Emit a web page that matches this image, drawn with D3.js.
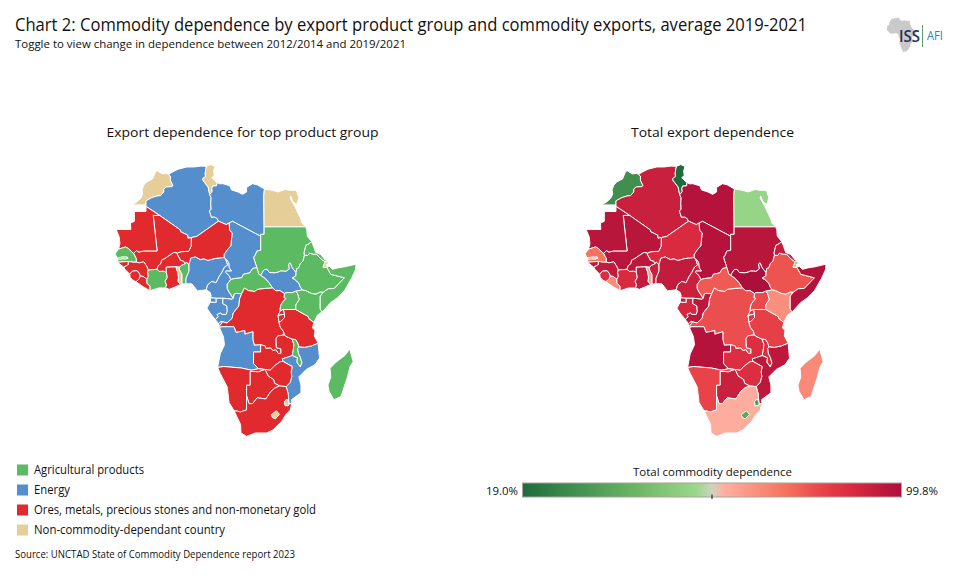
<!DOCTYPE html>
<html><head><meta charset="utf-8">
<script src="https://cdn.jsdelivr.net/npm/d3@7"></script>
<style>html,body{margin:0;padding:0;background:#fff}svg{display:block}text{font-family:"Open Sans",sans-serif;fill:#111}</style>
</head><body><svg id="c" width="955" height="584"></svg>
<script>
// ---------- chart data ----------
const titleText = "Chart 2: Commodity dependence by export product group and commodity exports, average 2019-2021";
const subtitleText = "Toggle to view change in dependence between 2012/2014 and 2019/2021";
const sourceText = "Source: UNCTAD State of Commodity Dependence report 2023";
const groupNames = ["Agricultural products","Energy","Ores, metals, precious stones and non-monetary gold","Non-commodity-dependant country"];
const groupColors = ["#5cba62","#558ecd","#e02a2d","#e6ce98"];
const agricultural = ["SEN","GMB","CIV","BEN","SDN","CAF","ETH","ERI","SOM","KEN","UGA","MWI","MDG"];
const energy = ["DZA","LBY","TCD","NGA","CMR","GNQ","GAB","COG","AGO","SSD","MOZ"];
const ores = ["MRT","MLI","NER","BFA","GIN","GNB","SLE","LBR","GHA","COD","RWA","BDI","TZA","ZMB","ZWE","BWA","NAM","ZAF"];
const nonCommodity = ["MAR","TUN","EGY","TGO","DJI","LSO","SWZ"];
const dependenceCodes = ["MAR","DZA","TUN","LBY","EGY","SDN","SSD","TCD","NER","MLI","MRT","SEN","GMB","GNB","GIN","SLE","LBR","CIV","BFA","GHA","TGO","BEN","NGA","CMR","CAF","GNQ","GAB","COG","COD","AGO","ZMB","MWI","MOZ","ZWE","BWA","NAM","ZAF","LSO","SWZ","TZA","KEN","UGA","RWA","BDI","ETH","ERI","DJI","SOM","MDG"];
const dependenceValues = [30,93,19,98,54.6,97,99.8,98,89,97,97,75,72,96,95,88,70,89,96,95,65,93,95,93,79,95,90,96,81,98,88,88,96,88,93,83,62.6,39,35,84,69,82,86,86,80,94,54,98,70];
const scaleT = [0,0.125,0.3,0.46,0.5,0.53,0.7,0.785,0.87,1];
const scaleColors = ["#1e6b3d","#3e8c4e","#6db565","#9cd88c","#cdd3bf","#ffb0a2","#f5705c","#e9454a","#d9293f","#ad0f3b"];
const scaleMin = 19.0, scaleMax = 99.8;
// borders: [country, neighbour or null for coast/no neighbour, lon-lat points]
const borders = [
["MAR",null,[[-2.2,35.1],[-2.9,35.3],[-4,35.2],[-5.4,35.9],[-5.9,35.8],[-6.8,34],[-8.5,33.3],[-9.3,32.5],[-9.8,31.4],[-9.6,30.4],[-10.2,29.3],[-11.5,28.3],[-12.9,27.67]]],
["MAR",null,[[-12.9,27.67],[-8.67,27.67]]],
["MAR","DZA",[[-8.67,27.67],[-8.67,28.7],[-7,29.5],[-5.5,29.9],[-4.5,30],[-3.6,30.9],[-3.6,31.6],[-2.9,32.1],[-1.2,32.2],[-1,32.5],[-1.7,33.7],[-1.7,34.7],[-2.2,35.1]]],
["DZA",null,[[-2.2,35.1],[-1,35.7],[0.5,36.3],[3,36.8],[5,36.8],[7,37],[8.6,36.95]]],
["DZA","TUN",[[8.6,36.95],[8.4,36.4],[8.2,35.3],[8.3,34.6],[7.5,34.1],[7.5,33.8],[8.1,33.1],[9.05,32.1],[9.5,30.2]]],
["TUN","LBY",[[9.5,30.2],[10.2,31],[10.1,31.7],[10.3,32.3],[11.5,32.4],[11.5,33.15]]],
["TUN",null,[[11.5,33.15],[10.8,33.7],[10.1,34.3],[10.8,34.9],[10.6,35.8],[11,36.9],[10.2,37.2],[9.8,37.35],[8.6,36.95]]],
["DZA","LBY",[[9.5,30.2],[9.9,29.5],[9.8,28],[9.9,26.5],[9.4,26.2],[10,24.5],[10.8,24.6],[11.6,24.2],[12,23.5]]],
["DZA","NER",[[12,23.5],[5.8,19.45],[4.25,19.15]]],
["DZA","MLI",[[4.25,19.15],[3.3,18.95],[3.2,19.8],[1.2,20.7],[1.1,21.2],[-4.8,25]]],
["DZA","MRT",[[-4.8,25],[-8.67,27.3]]],
["DZA",null,[[-8.67,27.3],[-8.67,27.67]]],
["MRT",null,[[-17.05,21],[-16.9,21.3],[-13,21.3],[-13.1,23],[-12,23.45],[-12,26],[-8.67,26],[-8.67,27.3]]],
["MRT",null,[[-16.5,16],[-16.1,17.5],[-16.3,19.3],[-17.05,21]]],
["MRT","MLI",[[-4.8,25],[-6.6,25],[-5.5,15.5],[-9.3,15.5],[-10.7,15.2],[-11.4,15.6],[-12.2,14.8]]],
["MRT","SEN",[[-12.2,14.8],[-12.8,15.3],[-13.7,16.2],[-14.5,16.6],[-16.5,16]]],
["SEN",null,[[-16.5,16],[-17.5,14.7],[-16.8,13.55]]],
["SEN","GMB",[[-16.8,13.55],[-15.5,13.8],[-14,13.8],[-13.8,13.5]]],
["SEN","GMB",[[-13.8,13.5],[-14.5,13.3],[-15.5,13.35],[-16.8,13.15]]],
["GMB",null,[[-16.8,13.15],[-16.8,13.55]]],
["SEN",null,[[-16.8,13.15],[-16.7,12.4]]],
["SEN","GNB",[[-16.7,12.4],[-13.7,12.6]]],
["SEN","GIN",[[-13.7,12.6],[-12.3,12.4],[-11.4,12.4]]],
["SEN","MLI",[[-12.2,14.8],[-11.5,13.5],[-11.4,12.4]]],
["GNB",null,[[-16.7,12.4],[-16.2,11.9],[-15,11]]],
["GNB","GIN",[[-15,11],[-13.7,11.7],[-13.7,12.6]]],
["GIN",null,[[-15,11],[-14.7,10.4],[-13.3,9.05]]],
["GIN","SLE",[[-13.3,9.05],[-12.5,9.9],[-11.2,10],[-10.6,9.3],[-10.3,8.5]]],
["GIN","LBR",[[-10.3,8.5],[-9.5,8.4],[-8.4,7.6]]],
["GIN","CIV",[[-8.4,7.6],[-8,8.4],[-8.2,9.5],[-8,10.2]]],
["GIN","MLI",[[-11.4,12.4],[-10.6,12.2],[-9.3,12.5],[-8.5,11.3],[-8,10.2]]],
["SLE",null,[[-13.3,9.05],[-13.2,8.2],[-12.5,7.4],[-11.5,6.9]]],
["SLE","LBR",[[-11.5,6.9],[-10.6,7.7],[-10.3,8.5]]],
["LBR",null,[[-11.5,6.9],[-9.5,5.5],[-7.5,4.35]]],
["LBR","CIV",[[-7.5,4.35],[-7.5,5.6],[-8.4,6.5],[-8.4,7.6]]],
["CIV",null,[[-7.5,4.35],[-5,5.15],[-3.1,5.1]]],
["CIV","GHA",[[-3.1,5.1],[-2.8,6],[-3.2,7],[-2.6,8.1],[-2.85,9.6]]],
["CIV","BFA",[[-2.85,9.6],[-3.7,9.9],[-4.8,9.8],[-5.5,10.4]]],
["CIV","MLI",[[-8,10.2],[-6.9,10.3],[-5.5,10.4]]],
["MLI","BFA",[[-5.5,10.4],[-5.2,11.4],[-4.4,12],[-4.2,13],[-3.4,13.3],[-2.1,14.2],[-0.7,15.1],[0.24,14.9]]],
["MLI","NER",[[0.24,14.9],[1.3,15.3],[3.5,15.4],[4.2,16.8],[4.25,19.15]]],
["BFA","NER",[[0.24,14.9],[0.3,14.4],[1,13.3],[1,13],[2.1,12.6],[2.4,11.9]]],
["BFA","BEN",[[2.4,11.9],[1.45,11.5],[0.9,11]]],
["BFA","TGO",[[0.9,11],[-0.15,11.1]]],
["BFA","GHA",[[-0.15,11.1],[-2.9,11],[-2.85,9.6]]],
["GHA",null,[[-3.1,5.1],[-2,4.75],[1.2,6.1]]],
["GHA","TGO",[[1.2,6.1],[0.5,7],[0.6,8.2],[0.4,9.5],[-0.15,11.1]]],
["TGO",null,[[1.2,6.1],[1.63,6.2]]],
["TGO","BEN",[[1.63,6.2],[1.6,9],[1.35,9.4],[0.8,10.5],[0.9,11]]],
["BEN",null,[[1.63,6.2],[2.7,6.35]]],
["BEN","NGA",[[2.7,6.35],[2.75,7.9],[3.6,9.9],[3.6,11.7]]],
["BEN","NER",[[3.6,11.7],[2.8,12.4],[2.4,11.9]]],
["NGA","NER",[[3.6,11.7],[4.1,13.5],[5.4,13.85],[6.8,13.1],[7.8,13.3],[9,12.85],[11,13.4],[13.1,13.6],[13.6,13.7]]],
["NGA","TCD",[[13.6,13.7],[14.1,13.1]]],
["NGA",null,[[2.7,6.35],[4.4,6.3],[5,5.6],[6,4.3],[7.1,4.45],[8.5,4.6]]],
["NGA","CMR",[[8.5,4.6],[8.9,6],[10.1,7],[11.3,6.6],[12.2,8.4],[12.9,9.4],[13.7,11],[14.6,11.6],[14.1,13.1]]],
["NER","TCD",[[15,23],[15.2,21],[15.9,20.4],[15.5,16.9],[14.4,15.7],[13.6,14.5],[13.6,13.7]]],
["NER","LBY",[[15,23],[14.2,22.6],[12,23.5]]],
["LBY",null,[[11.5,33.15],[12.3,32.85],[13.2,32.9],[15.2,32.4],[15.7,31.4],[17.5,30.9],[18.9,30.3],[20,30.9],[20,32],[21.7,32.9],[23.1,32.6],[25.1,31.6]]],
["LBY","EGY",[[25.1,31.6],[24.9,30],[25,22]]],
["LBY","SDN",[[25,22],[25,20],[24,20],[24,19.5]]],
["LBY","TCD",[[24,19.5],[16,23.45],[15,23]]],
["EGY",null,[[25.1,31.6],[27.3,31.3],[29,30.9],[31,31.5],[32.3,31.3],[34.2,31.3],[34.9,29.5],[34.3,27.8],[33.2,28.5],[32.6,29.9],[32.4,29.4],[33.8,27.2],[35.5,24],[35.7,23],[36.9,22]]],
["EGY","SDN",[[36.9,22],[25,22]]],
["SDN",null,[[36.9,22],[37.2,21],[37.3,19.5],[38.6,18]]],
["SDN","ERI",[[38.6,18],[37.5,17.3],[36.9,17],[36.4,15],[36.5,14.3]]],
["SDN","ETH",[[36.5,14.3],[36.1,12.7],[35.3,12],[34.9,10.8],[34.3,10.6],[34.1,9.5]]],
["SDN","SSD",[[34.1,9.5],[33,10.8],[32.4,12.2],[32,11.9],[32.2,10.5],[31.2,9.8],[30.5,9.9],[29.6,9.9],[29,9.6],[28,9.4],[26.5,9.5],[25.8,10.4],[25,10.3],[24,8.7]]],
["SDN","CAF",[[24,8.7],[23.5,9],[22.9,10.9]]],
["SDN","TCD",[[22.9,10.9],[22.4,12.5],[22.2,13],[22,13.8],[22.4,14.3],[22.9,15.5],[24,15.7],[24,19.5]]],
["TCD","CMR",[[14.1,13.1],[14.5,12.85],[14.9,12.2],[15.05,10.8],[15.7,9.95],[14.2,10],[13.95,9.6],[15,8.6],[15.5,7.5]]],
["TCD","CAF",[[15.5,7.5],[16.5,7.8],[18.6,8],[19.1,9],[20.9,9.4],[21.7,10.6],[22.9,10.9]]],
["CMR",null,[[8.5,4.6],[9.6,3.9],[9.9,3],[9.8,2.35]]],
["CMR","GNQ",[[9.8,2.35],[11.35,2.2]]],
["CMR","GAB",[[11.35,2.2],[13.3,2.2]]],
["CMR","COG",[[13.3,2.2],[14.5,2.1],[15.9,1.9],[16.2,2.2]]],
["CMR","CAF",[[16.2,2.2],[15,4],[14.5,5],[14.5,6.2],[15.5,7.5]]],
["CAF","COG",[[16.2,2.2],[16.5,3.4],[17,3.6],[18.6,3.5]]],
["CAF","COD",[[18.6,3.5],[19.4,5.1],[20.5,4.4],[22.4,4.1],[23,4.7],[25.3,5],[27.4,5.1]]],
["CAF","SSD",[[27.4,5.1],[26.4,6.6],[25.2,7.9],[24,8.7]]],
["SSD","COD",[[27.4,5.1],[28.4,4.3],[29.5,4.4],[30.85,3.5]]],
["SSD","UGA",[[30.85,3.5],[31.2,3.8],[33,3.8],[34,4.2]]],
["SSD","KEN",[[34,4.2],[35.9,4.6]]],
["SSD","ETH",[[35.9,4.6],[35.3,5.4],[34.9,6.5],[33.7,7.6],[33,7.9],[34.1,8.6],[34.1,9.5]]],
["ETH","ERI",[[36.5,14.3],[37.5,14.3],[37.9,14.9],[39,14.6],[40,14.6],[41.2,13.3],[42.4,12.5]]],
["ETH","DJI",[[42.4,12.5],[41.8,11],[42.9,11]]],
["ETH","SOM",[[42.9,11],[44,9],[47.9,8],[45,5],[43.3,4.9],[41.9,3.95]]],
["ETH","KEN",[[41.9,3.95],[41,4],[39.8,3.4],[38.5,3.6],[36.8,4.4],[35.9,4.6]]],
["ERI",null,[[38.6,18],[39.2,16.5],[39.7,15.1],[41.2,14.5],[42.4,13],[43.1,12.7]]],
["ERI","DJI",[[43.1,12.7],[42.4,12.5]]],
["DJI",null,[[43.1,12.7],[43.3,12],[42.6,11.55],[43.2,11.5],[42.9,11]]],
["SOM",null,[[42.9,11],[43.5,11.3],[44.5,10.4],[46,10.8],[48,11.1],[51.2,11.85],[51.1,10.4],[50,8],[48,4.5],[46,2.4],[44,1],[41.55,-1.7]]],
["SOM","KEN",[[41.55,-1.7],[41,-0.9],[41,2.8],[41.9,3.95]]],
["KEN",null,[[41.55,-1.7],[40.2,-2.6],[39.2,-4.7]]],
["KEN","TZA",[[39.2,-4.7],[37.7,-3.5],[37.6,-3],[34,-1]]],
["KEN","UGA",[[34,-1],[34,0.3],[35,1.9],[34.5,3.6],[34,4.2]]],
["UGA","TZA",[[34,-1],[30.5,-1]]],
["UGA","RWA",[[30.5,-1],[29.6,-1.4]]],
["UGA","COD",[[29.6,-1.4],[29.6,-0.6],[29.9,0.6],[31.2,2.2],[30.7,2.4],[30.85,3.5]]],
["RWA","COD",[[29.6,-1.4],[29,-2.7]]],
["RWA","BDI",[[29,-2.7],[30.4,-2.4],[30.8,-2.4]]],
["RWA","TZA",[[30.8,-2.4],[30.5,-1]]],
["BDI","COD",[[29,-2.7],[29.2,-4.4]]],
["BDI","TZA",[[29.2,-4.4],[29.7,-4.45],[30.8,-3.3],[30.8,-2.4]]],
["TZA","COD",[[29.2,-4.4],[29.6,-6],[30.5,-7.2],[30.8,-8.2]]],
["TZA","ZMB",[[30.8,-8.2],[31.2,-8.6],[33,-9.4]]],
["TZA","MWI",[[33,-9.4],[34,-9.5],[34.6,-10.5],[34.95,-11.55]]],
["TZA","MOZ",[[34.95,-11.55],[36.5,-11.7],[38.5,-11.3],[40.4,-10.5]]],
["TZA",null,[[39.2,-4.7],[38.8,-6.2],[39.5,-7],[39.3,-8.5],[40.4,-10.5]]],
["MWI","ZMB",[[33,-9.4],[33.5,-10.9],[33.3,-12.5],[33,-14]]],
["MWI","MOZ",[[34.95,-11.55],[34.6,-12],[34.8,-13.5],[35.3,-14.4],[35.8,-16],[35.3,-17.1],[34.3,-15.8],[34.5,-14.6],[33,-14]]],
["ZMB","MOZ",[[33,-14],[30.2,-14.9],[30.4,-15.6]]],
["ZMB","ZWE",[[30.4,-15.6],[29.5,-15.7],[28,-16.8],[26.7,-18],[25.26,-17.8]]],
["ZMB","NAM",[[25.26,-17.8],[23.4,-17.6]]],
["ZMB","AGO",[[23.4,-17.6],[22,-16.2],[22,-13],[24,-13],[24,-11]]],
["ZMB","COD",[[24,-11],[25.3,-11.3],[25.5,-12],[26.9,-11.9],[27.5,-12.6],[28.4,-12.4],[29,-13.4],[29.8,-13.4],[29.8,-12.15],[28.5,-11.8],[28.4,-9.3],[28.9,-8.5],[30.8,-8.2]]],
["AGO","COD",[[24,-11],[22.2,-11.1],[21.8,-9.5],[21.8,-7.3],[19.5,-8],[19.5,-7],[17,-7.5],[16.4,-5.9],[13,-5.9],[12.25,-6.1]]],
["AGO",null,[[12.25,-6.1],[13.4,-8.7],[13.7,-11],[12.5,-13.5],[11.75,-17.25]]],
["AGO","NAM",[[11.75,-17.25],[13.5,-17],[18.5,-17.4],[21.4,-18],[23.4,-17.6]]],
["AGO",null,[[12.2,-5.75],[12,-5]]],
["AGO","COG",[[12,-5],[12.8,-4.4]]],
["AGO","COD",[[12.8,-4.4],[13,-4.8],[12.2,-5.75]]],
["COD",null,[[12.2,-5.75],[12.25,-6.1]]],
["COG","COD",[[12.8,-4.4],[14.4,-4.85],[15.9,-3.5],[16.2,-2],[17.8,0],[18,2],[18.6,3.5]]],
["COG","GAB",[[11.1,-3.9],[11.9,-3],[11.6,-2.4],[12.5,-2],[13,-2.4],[14.2,-2.4],[14.5,-1.5],[14.4,0],[13.2,0.7],[13.3,2.2]]],
["COG",null,[[11.1,-3.9],[12,-5]]],
["GAB",null,[[9.6,1.1],[9.3,0.5],[8.7,-0.6],[9.6,-2],[11.1,-3.9]]],
["GAB","GNQ",[[9.6,1.1],[11.35,1],[11.35,2.2]]],
["GNQ",null,[[9.8,2.35],[9.6,1.1]]],
["MOZ","ZWE",[[30.4,-15.6],[33,-17],[32.7,-18.5],[32.9,-19.7],[32.4,-21.3],[31.3,-22.4]]],
["MOZ","ZAF",[[31.3,-22.4],[31.9,-24.4],[32,-25.95]]],
["MOZ","SWZ",[[32,-25.95],[32.1,-26.85]]],
["MOZ","ZAF",[[32.1,-26.85],[32.9,-26.85]]],
["MOZ",null,[[40.4,-10.5],[40.8,-14.7],[39.5,-16.5],[37,-17.8],[34.9,-19.8],[35.5,-22],[35.5,-24],[32.8,-25.8],[32.9,-26.85]]],
["ZWE","BWA",[[25.26,-17.8],[26.2,-19.6],[27.7,-20.5],[28,-21.5],[29.4,-22.2]]],
["ZWE","ZAF",[[29.4,-22.2],[31.3,-22.4]]],
["BWA","NAM",[[25.26,-17.8],[24.5,-18],[23.4,-18.4],[21,-18.3],[21,-22],[20,-22],[20,-24.75]]],
["BWA","ZAF",[[20,-24.75],[20.7,-26.8],[21.7,-26.8],[23,-25.3],[25.5,-25.6],[26.9,-23.7],[28,-22.8],[29.4,-22.2]]],
["NAM","ZAF",[[16.45,-28.6],[17.4,-28.7],[18.2,-28.9],[20,-28.4],[20,-24.75]]],
["NAM",null,[[11.75,-17.25],[12.5,-18.9],[14.5,-22.5],[15,-26.5],[16.45,-28.6]]],
["ZAF",null,[[16.45,-28.6],[18.3,-32],[18.4,-34],[20,-34.8],[22.5,-34],[25.7,-34],[27.5,-33.3],[30,-31.2],[31.3,-29.4],[32.4,-28.5],[32.9,-26.85]]],
["ZAF","SWZ",[[32,-25.95],[31.3,-25.75],[30.8,-26.3],[31,-27.3],[31.95,-27.3],[32.1,-26.85]]],
["LSO",null,[[27,-29.6],[28.5,-28.6],[29.4,-29.5],[28.2,-30.6],[27.4,-30.3],[27,-29.6]]],
["MDG",null,[[49.4,-12.2],[50.4,-15.7],[49.5,-17],[48.7,-20],[46.9,-25],[44.9,-25.8],[43.5,-23.6],[43.2,-22],[44,-19.9],[43.8,-17.5],[45.5,-15.8],[48,-14],[49.4,-12.2]]]
];

// ---------- build country geometries by chaining the shared borders ----------
function ringsFor(code){
  const arcs = borders.filter(b=>b[0]===code||b[1]===code).map(b=>b[2]);
  const used = arcs.map(()=>false), rings=[];
  const same=(a,b)=>a[0]===b[0]&&a[1]===b[1];
  for(let s=0;s<arcs.length;s++){
    if(used[s]) continue;
    used[s]=true;
    let ring=arcs[s].slice();
    while(!same(ring[0],ring[ring.length-1])){
      const end=ring[ring.length-1]; let found=false;
      for(let i=0;i<arcs.length;i++){
        if(used[i]) continue;
        if(same(arcs[i][0],end)){ring=ring.concat(arcs[i].slice(1));used[i]=true;found=true;break;}
        if(same(arcs[i][arcs[i].length-1],end)){ring=ring.concat(arcs[i].slice().reverse().slice(1));used[i]=true;found=true;break;}
      }
      if(!found) throw new Error("open ring "+code+" at "+end);
    }
    rings.push(ring);
  }
  return rings;
}
function featureFor(code){
  const polys=ringsFor(code).map(r=>{
    let g={type:"Polygon",coordinates:[r]};
    if(d3.geoArea(g)>2*Math.PI) g={type:"Polygon",coordinates:[r.slice().reverse()]};
    return g.coordinates;
  });
  return {type:"Feature",id:code,geometry:{type:"MultiPolygon",coordinates:polys}};
}
// enclaves last so they sit on top
const features = dependenceCodes.map(featureFor)
  .sort((a,b)=>(["LSO","SWZ"].includes(a.id)?1:0)-(["LSO","SWZ"].includes(b.id)?1:0));

const svg = d3.select("#c");
const groupOf = c => agricultural.includes(c)?0:energy.includes(c)?1:ores.includes(c)?2:3;
const depScale = d3.scaleLinear().domain(scaleT.map(t=>scaleMin+t*(scaleMax-scaleMin))).range(scaleColors).interpolate(d3.interpolateRgb);
const depOf = c => dependenceValues[dependenceCodes.indexOf(c)];

function drawMap(tx, fill){
  const proj = d3.geoMercator().scale(201).translate([tx,306]);
  const path = d3.geoPath(proj);
  svg.append("g").selectAll("path").data(features).join("path")
    .attr("d",path).attr("fill",d=>fill(d.id))
    .attr("stroke","#fff").attr("stroke-width",1).attr("stroke-linejoin","round");
}
drawMap(176.4, c=>groupColors[groupOf(c)]);
drawMap(646.4, c=>depScale(depOf(c)));

function label(x,y,t,size,w,anchor){
  const el=svg.append("text").attr("x",x).attr("y",y).attr("font-size",size).attr("dominant-baseline","middle")
    .attr("text-anchor",anchor||"start").text(t);
  if(w) el.attr("textLength",w).attr("lengthAdjust","spacingAndGlyphs");
  return el;
}
label(15,26,titleText,18,792);
label(15,45,subtitleText,11.2,391);
label(242.5,133.5,"Export dependence for top product group",13.5,272,"middle");
label(712.5,133.5,"Total export dependence",13.5,163,"middle");
label(15,555,sourceText,10,280);

// legend
const legendY = d3.scalePoint().domain(groupNames).range([470,530]);
groupNames.forEach((n,i)=>{
  svg.append("rect").attr("x",17).attr("y",legendY(n)-5.5).attr("width",11).attr("height",11).attr("fill",groupColors[i]);
});
const legendWidths=[110,36,282,191];
legendWidths.forEach((w,i)=>label(34,legendY(groupNames[i])+1,groupNames[i],12,w));

// gradient bar
const defs=svg.append("defs");
const lg=defs.append("linearGradient").attr("id","dep");
scaleT.forEach((t,i)=>lg.append("stop").attr("offset",t).attr("stop-color",scaleColors[i]));
const barScale=d3.scaleLinear().domain([scaleMin,scaleMax]).range([522.5,901.5]);
svg.append("rect").attr("x",barScale(scaleMin)).attr("y",483).attr("width",barScale(scaleMax)-barScale(scaleMin)).attr("height",14)
  .attr("fill","url(#dep)").attr("stroke","#a5a39b").attr("stroke-width",1);
const mid=(scaleMin+scaleMax)/2;
svg.append("line").attr("x1",barScale(mid)).attr("x2",barScale(mid)).attr("y1",494.5).attr("y2",499).attr("stroke","#111");
label(712.5,473,"Total commodity dependence",11.3,159,"middle");
label(518,491.5,scaleMin.toFixed(1)+"%",11.3,32,"end");
label(906,491.5,scaleMax.toFixed(1)+"%",11.3,32);

// logo
const logoProj=d3.geoMercator().scale(25).translate([894.6,35.5]);
svg.append("g").selectAll("path").data(features.filter(f=>f.id!=="MDG")).join("path").attr("d",d3.geoPath(logoProj))
  .attr("fill","#c9c9c9").attr("stroke","#c9c9c9").attr("stroke-width",0.6);
svg.append("text").attr("x",899).attr("y",42).attr("font-size",16).attr("font-weight",600).attr("textLength",21).attr("lengthAdjust","spacingAndGlyphs").style("fill","#1f3158").text("ISS");
svg.append("line").attr("x1",922.5).attr("x2",922.5).attr("y1",25).attr("y2",47).attr("stroke","#5f9e6e").attr("stroke-width",1);
svg.append("text").attr("x",927).attr("y",39.5).attr("font-size",12).attr("textLength",16).attr("lengthAdjust","spacingAndGlyphs").style("fill","#2f7fb8").text("AFI");
</script></body></html>
